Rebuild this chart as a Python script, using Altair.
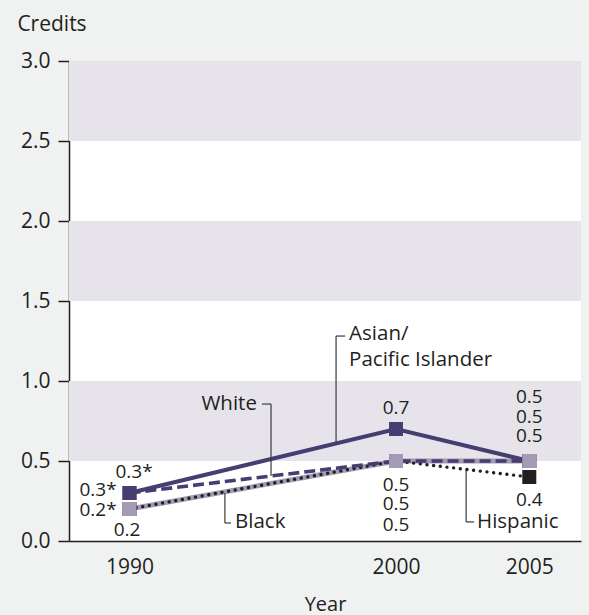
import altair as alt
import pandas as pd

# ---- data ----
YEARS = [1990, 2000, 2005]
SERIES = ["Asian/Pacific Islander", "White", "Black", "Hispanic"]
ASIAN = [0.3, 0.7, 0.5]
WHITE = [0.3, 0.5, 0.5]
BLACK = [0.2, 0.5, 0.5]
HISPANIC = [0.2, 0.5, 0.4]
ASIAN_LBL = ["0.3*", "0.7", "0.5"]
WHITE_LBL = ["0.3*", "0.5", "0.5"]
BLACK_LBL = ["0.2*", "0.5", "0.5"]
HISPANIC_LBL = ["0.2", "0.5", "0.4"]
Y_TICKS = [0.0, 0.5, 1.0, 1.5, 2.0, 2.5, 3.0]
BAND_LO = [0.5, 1.5, 2.5]
BAND_HI = [1.0, 2.0, 3.0]

# series name labels (annotation text) and leader lines, in data coordinates
NAME_TEXT = ["Asian/", "Pacific Islander", "White", "Black", "Hispanic"]
NAME_YEAR = [1998.24, 1998.24, 1994.78, 1993.96, 2003.04]
NAME_VAL = [1.294, 1.131, 0.859, 0.119, 0.119]
NAME_ALIGN = ["left", "left", "right", "left", "left"]

LEAD_X1 = [1997.75, 1997.75, 1995.31, 1994.97, 1993.58, 1993.58, 2002.63, 2002.63]
LEAD_X2 = [1997.75, 1998.09, 1995.31, 1995.31, 1993.58, 1993.81, 2002.63, 2002.93]
LEAD_Y1 = [0.6125, 1.281, 0.406, 0.856, 0.30, 0.1125, 0.444, 0.119]
LEAD_Y2 = [1.281, 1.281, 0.856, 0.856, 0.1125, 0.1125, 0.119, 0.119]

# ---- tables ----
rows = []
for name, vals, lbls in zip(SERIES, [ASIAN, WHITE, BLACK, HISPANIC],
                            [ASIAN_LBL, WHITE_LBL, BLACK_LBL, HISPANIC_LBL]):
    for yr, v, l in zip(YEARS, vals, lbls):
        rows.append({"series": name, "year": yr, "value": v, "label": l})
df = pd.DataFrame(rows)

bands = pd.DataFrame({"value": BAND_LO, "value2": BAND_HI})
names = pd.DataFrame({"text": NAME_TEXT, "year": NAME_YEAR, "value": NAME_VAL, "align": NAME_ALIGN})
leaders = pd.DataFrame({"year": LEAD_X1, "year2": LEAD_X2, "value": LEAD_Y1, "value2": LEAD_Y2})

FONT = "Open Sans"
DARK = "#463d70"
LIGHT = "#a39ab4"
INK = "#231f20"
BAND = "#e6e3ea"

xscale = alt.Scale(domain=[1987.73, 2006.94], nice=False, zero=False)
yscale = alt.Scale(domain=[0, 3], nice=False, zero=False)

xaxis = alt.Axis(values=YEARS, format="d", title="Year", ticks=False, tickSize=0,
                 labelPadding=15, labelFontSize=21, labelFont=FONT, labelColor=INK,
                 domainColor=INK, domainWidth=1.5, grid=False,
                 titleFont=FONT, titleFontSize=20, titleFontWeight="normal", titleColor=INK,
                 titleBaseline="alphabetic", titleY=69)
yaxis = alt.Axis(values=Y_TICKS, format=".1f", title="Credits", tickSize=11, tickColor=INK,
                 tickWidth=1.5, labelPadding=8, labelFontSize=21, labelFont=FONT, labelColor=INK,
                 domainColor=INK, domainWidth=1.5, grid=False,
                 titleFont=FONT, titleFontSize=21, titleFontWeight="normal", titleColor=INK,
                 titleAngle=0, titleAlign="center", titleBaseline="alphabetic",
                 titleX=-17.5, titleY=-30.5)

X = alt.X("year:Q", scale=xscale, axis=xaxis)
Y = alt.Y("value:Q", scale=yscale, axis=yaxis)

band_layer = alt.Chart(bands).mark_rect(color=BAND).encode(
    x=alt.value(0), x2=alt.value(512), y=Y, y2="value2:Q")

def line(series, **kw):
    return alt.Chart(df).transform_filter(alt.datum.series == series).mark_line(**kw).encode(
        x=X, y=Y, order="year:Q")

black_line = line("Black", color=LIGHT, strokeWidth=5)
hisp_line = line("Hispanic", color=INK, strokeWidth=3.4, strokeDash=[0.01, 6.7], strokeCap="round")
white_line = line("White", color=DARK, strokeWidth=3.6, strokeDash=[11, 5])
asian_line = line("Asian/Pacific Islander", color=DARK, strokeWidth=4)

def pts(series, color):
    return alt.Chart(df).transform_filter(alt.datum.series == series).mark_point(
        shape="square", filled=True, size=196, color=color, opacity=1).encode(x=X, y=Y)

markers = [pts("Hispanic", INK), pts("White", DARK), pts("Asian/Pacific Islander", DARK), pts("Black", LIGHT)]

OFFSETS = {
    ("Asian/Pacific Islander", 1990): (4.5, -21.5),
    ("White", 1990): (-31.5, -3),
    ("Black", 1990): (-31.5, 1),
    ("Hispanic", 1990): (-2.5, 21),
    ("Asian/Pacific Islander", 2000): (0, -21.5),
    ("White", 2000): (0, 23.5),
    ("Black", 2000): (0, 43),
    ("Hispanic", 2000): (0, 63.5),
    ("Asian/Pacific Islander", 2005): (0, -64.5),
    ("White", 2005): (0, -44.5),
    ("Black", 2005): (0, -25),
    ("Hispanic", 2005): (0, 22.5),
}

value_labels = []
for (s, yr), (dx, dy) in OFFSETS.items():
    value_labels.append(
        alt.Chart(df).transform_filter((alt.datum.series == s) & (alt.datum.year == yr))
        .mark_text(font=FONT, fontSize=19, color=INK, dx=dx, dy=dy, baseline="middle", align="center")
        .encode(x=X, y=Y, text="label:N"))

leader_layer = alt.Chart(leaders).mark_rule(color="#3a3a3a", strokeWidth=1.2).encode(
    x=X, x2="year2:Q", y=Y, y2="value2:Q")

name_layers = []
for al in ["left", "right"]:
    name_layers.append(
        alt.Chart(names).transform_filter(alt.datum.align == al)
        .mark_text(font=FONT, fontSize=20.5, color=INK, align=al, baseline="middle")
        .encode(x=X, y=Y, text="text:N"))

chart = alt.layer(
    band_layer, black_line, hisp_line, white_line, asian_line,
    *markers, leader_layer, *value_labels, *name_layers
).properties(
    width=512, height=480,
    autosize=alt.AutoSizeParams(type="none"),
    padding={"left": 69, "top": 61, "right": 8, "bottom": 74},
    background="#eff2f1",
).configure_view(fill="white", stroke=None)

chart.save("out.html", embed_options={"renderer": "svg", "actions": False})
